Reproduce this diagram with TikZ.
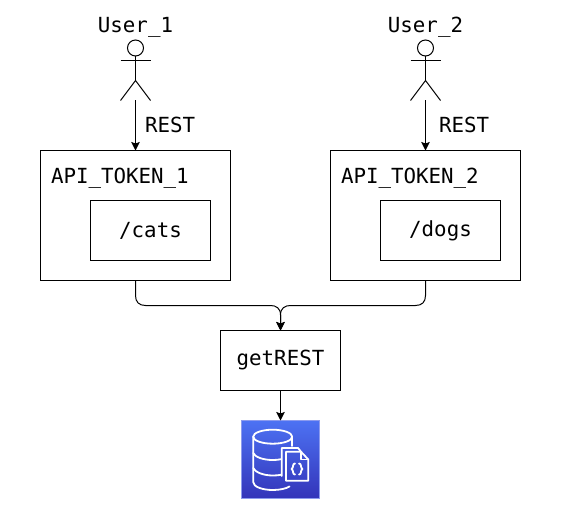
\documentclass[tikz,border=0pt]{standalone}
\usepackage{fontspec}
\setmainfont{DejaVu Sans Mono}
\usetikzlibrary{arrows.meta,calc}
\definecolor{icontop}{HTML}{4D72F3}
\definecolor{iconbot}{HTML}{3334B9}
\definecolor{iconedge}{HTML}{8C9BEE}
\tikzset{
  x=1pt,y=-1pt,
  every node/.style={font=\fontsize{20.8}{24}\selectfont,text=black,inner sep=0pt,outer sep=0pt},
  boxnode/.style={draw=black,line width=1pt,rectangle,fill=white},
  outerbox/.style={boxnode,minimum width=190pt,minimum height=130pt},
  innerbox/.style={boxnode,minimum width=120pt,minimum height=60pt},
  conn/.style={draw=black,line width=1pt,-{Stealth[length=8.5pt,width=8.5pt,inset=1.5pt]}},
  stick/.style={draw=black,line width=1pt},
  headnode/.style={draw=black,line width=1pt,circle,minimum size=16pt},
  iconline/.style={draw=white,line width=1.8pt,line cap=round,line join=round},
  lbl/.style={anchor=base}
}
\begin{document}
\begin{tikzpicture}
\useasboundingbox (0,0) rectangle (571,511);
% boxes
\node[outerbox] (tok1) at (135.5,215.5) {};
\node[outerbox] (tok2) at (425.5,215.5) {};
\node[innerbox] (cats) at (150.5,230.5) {/cats};
\node[innerbox] (dogs) at (440.5,230.5) {/dogs};
\node[anchor=base west] (tok1l) at (51,183) {API\_TOKEN\_1};
\node[anchor=base west] (tok2l) at (341,183) {API\_TOKEN\_2};
\node[boxnode,minimum width=120pt,minimum height=60pt] (get) at (280.5,360.5) {getREST};
% icon
\node[minimum width=78pt,minimum height=78pt,top color=icontop,bottom color=iconbot,draw=iconedge,line width=1pt] (icon) at (280.5,459.5) {};
\begin{scope}
  \draw[iconline] (272.7,436.7) ellipse [x radius=19.5,y radius=7];
  \draw[iconline] (253.2,436.7) -- (253.2,482) .. controls (253.2,487) and (263,490) .. (272.7,490) .. controls (280,490) and (286,488.6) .. (289.5,486.5);
  \draw[iconline] (292.2,436.7) -- (292.2,446);
  \draw[iconline] (253.2,453) .. controls (255,457) and (263,460) .. (272.7,460) .. controls (276,460) and (278,459.8) .. (281,459.2);
  \draw[iconline] (253.2,468) .. controls (255,472) and (263,475.5) .. (272.7,475.5) .. controls (276,475.5) and (278,475.3) .. (281,474.8);
  \draw[iconline] (281.7,476) -- (281.7,448) -- (298,448) -- (301,451.7);
  \draw[iconline] (286,480.7) -- (286,451.7) -- (301,451.7) -- (308.3,459.5) -- (308.3,480.7) -- cycle;
  \draw[iconline] (301,451.7) -- (301,459.5) -- (308.3,459.5);
  \draw[iconline] (295,463.5) .. controls (292,463.5) and (294,468) .. (291.5,469) .. controls (294,470) and (292,474.5) .. (295,474.5);
  \draw[iconline] (299,463.5) .. controls (302,463.5) and (300,468) .. (302.5,469) .. controls (300,470) and (302,474.5) .. (299,474.5);
\end{scope}
% actors
\foreach \n/\xx/\t in {1/135.5/User\_1,2/425.5/User\_2}{
  \node[anchor=base] (user\n) at (\xx,33) {\t};
  \node[headnode] (head\n) at (\xx,48) {};
  \coordinate (hip\n) at (\xx,80.5);
  \coordinate (armL\n) at (\xx-15,60.5);
  \coordinate (armR\n) at (\xx+15,60.5);
  \coordinate (legL\n) at (\xx-15,100.5);
  \coordinate (legR\n) at (\xx+15,100.5);
  \coordinate (foot\n) at (\xx,100.5);
  \draw[stick] (head\n.south) -- (hip\n);
  \draw[stick] (armL\n) -- (armR\n);
  \draw[stick] (legL\n) -- (hip\n) -- (legR\n);
}
\draw[conn] (foot1) -- (tok1.north);
\draw[conn] (foot2) -- (tok2.north);
\node[anchor=base west] (rest1) at (145,132) {REST};
\node[anchor=base west] (rest2) at (439,132) {REST};
% merge connectors
\draw[conn] (tok1.south) -- (135.5,295.5) .. controls (135.5,302) and (139,305.5) .. (145.5,305.5) -- (270.5,305.5) .. controls (276,305.5) and (280.5,308) .. (280.5,315) -- (get.north);
\draw[conn] (tok2.south) -- (425.5,295.5) .. controls (425.5,302) and (422,305.5) .. (415.5,305.5) -- (290.5,305.5) .. controls (285,305.5) and (280.5,308) .. (280.5,315) -- (get.north);
\draw[conn] (get.south) -- (icon.north);
\end{tikzpicture}
\end{document}
